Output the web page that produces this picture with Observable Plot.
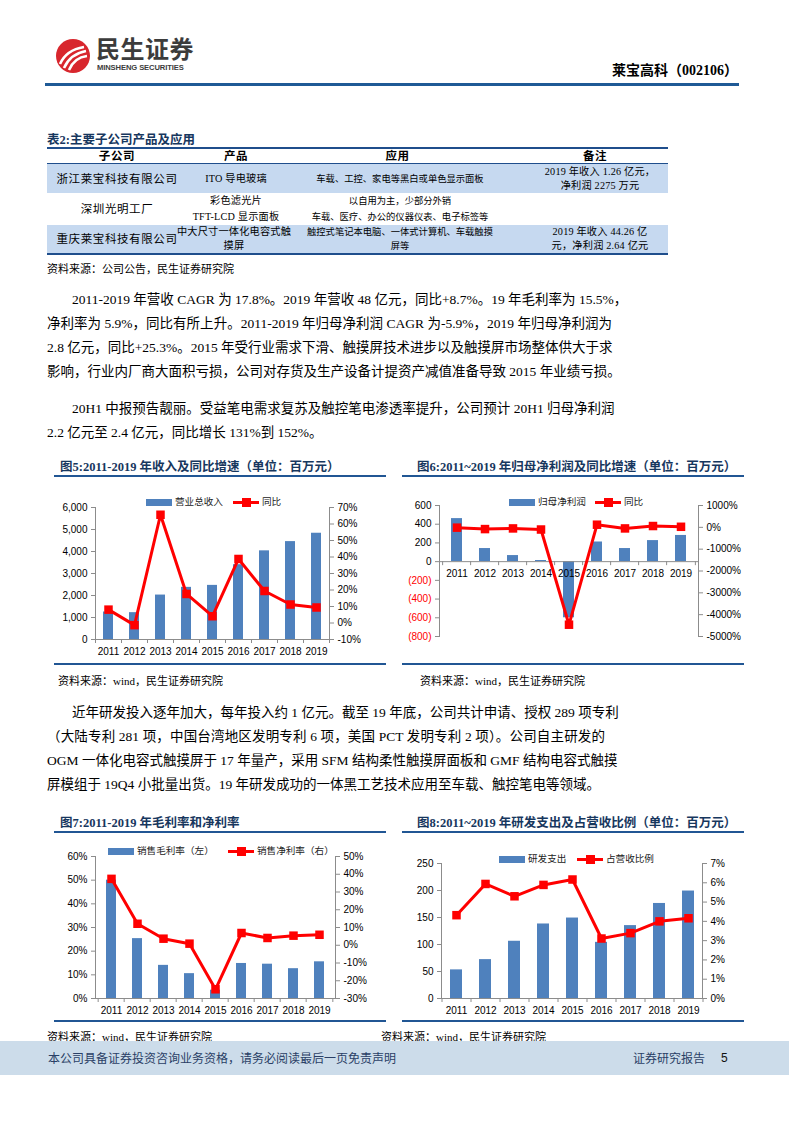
<!DOCTYPE html>
<html><head><meta charset="utf-8">
<script src="https://cdn.jsdelivr.net/npm/d3@7"></script>
<script src="https://cdn.jsdelivr.net/npm/@observablehq/plot@0.6"></script>
<style>
body{margin:0;width:793px;height:1122px;position:relative;background:#fff;overflow:hidden;font-family:"Liberation Serif","Noto Sans CJK SC",serif;color:#000}
.a{position:absolute;white-space:nowrap}
.ln{position:absolute;font-size:13.5px;white-space:nowrap;line-height:18px;text-align:justify;text-align-last:justify}
.ttl{position:absolute;font-weight:bold;font-size:12.5px;color:#17375e;white-space:nowrap;font-family:"Liberation Serif","Noto Sans CJK SC",serif;line-height:16px}
.bl{position:absolute;height:2px;background:#215694}
.src{position:absolute;font-size:11px;white-space:nowrap;line-height:14px}
.cell{position:absolute;display:flex;align-items:center;justify-content:center;text-align:center;font-size:10.2px;line-height:14px;letter-spacing:0.2px;white-space:nowrap}
.c1{font-size:11.5px;letter-spacing:0.6px}
.c3{font-size:9.3px;letter-spacing:0px}
.leg{position:absolute;font-size:9.6px;line-height:14px;white-space:nowrap;font-family:"Noto Sans CJK SC",sans-serif;color:#222}
.sw{position:absolute}
.chart{position:absolute}
.chart svg{position:absolute;left:0;top:0}
</style></head>
<body>
<script>
// ---------- data ----------
const years = ["2011","2012","2013","2014","2015","2016","2017","2018","2019"];
// 图5
const revenue = [1250,1220,2020,2370,2460,3400,4030,4450,4830];
const revenueYoY = [8.1,-1.3,65.6,17.6,4.1,38.8,19.4,11.2,9.4];
const revTicks = [0,1000,2000,3000,4000,5000,6000];
const revYoYTicks = [-10,0,10,20,30,40,50,60,70];
// 图6
const netProfit = [460,140,65,12,-600,210,140,225,280];
const netProfitYoY = [-15,-80,-50,-100,-4460,120,-50,60,25];
const npTicks = [-800,-600,-400,-200,0,200,400,600];
const npYoYTicks = [-5000,-4000,-3000,-2000,-1000,0,1000];
// 图7
const grossMargin = [50,25.3,14,10.5,3.5,14.8,14.5,12.6,15.5];
const netMargin = [37.4,12.1,3.7,0.9,-24.8,6.9,4.1,5.4,5.9];
const gmTicks = [0,10,20,30,40,50,60];
const nmTicks = [-30,-20,-10,0,10,20,30,40,50];
// 图8
const rdExpense = [53,72,106,138,149,104,135,176,199];
const rdRatio = [4.32,5.94,5.30,5.89,6.17,3.11,3.39,4.0,4.16];
const rdTicks = [0,50,100,150,200,250];
const rdRatioTicks = [0,1,2,3,4,5,6,7];

const BLUE = "#4F81BD", RED = "#FF0000", AX = "#8c8c8c";

function makeChart(o){
  const div = document.createElement("div");
  div.className = "chart";
  Object.assign(div.style,{left:o.left+"px",top:o.top+"px",width:o.width+"px",height:o.height+"px"});
  const xs = {type:"band",domain:years,paddingInner:0.6,paddingOuter:0.3,axis:null};
  const common = {width:o.width,height:o.height,marginLeft:o.ml,marginRight:o.mr,marginTop:o.mt,marginBottom:o.mb,
    style:{fontFamily:"'Liberation Sans',Arial,sans-serif",fontSize:"10px",color:"#000",background:"transparent",overflow:"visible"}};
  const bd = years.map((y,i)=>({year:y,v:o.bars[i]}));
  const ld = years.map((y,i)=>({year:y,v:o.line[i]}));
  const ax = {tickFormat:o.barFmt,tickSize:4,tickPadding:4,stroke:AX,label:null};
  const step = (o.width-o.ml-o.mr)/years.length;
  const leftMarks = [
    Plot.barY(bd,{x:"year",y:"v",fill:BLUE}),
    Plot.ruleY([o.base],{stroke:AX,strokeWidth:1}),
    // category boundary ticks on the x axis
    Plot.ruleX(years,{x:d=>d,y1:()=>o.base,y2:()=>o.base,insetBottom:-4,dx:-step/2,stroke:AX}),
    Plot.ruleX(years.slice(-1),{x:d=>d,y1:()=>o.base,y2:()=>o.base,insetBottom:-4,dx:step/2,stroke:AX}),
    Plot.frame({anchor:"left",stroke:AX}),
  ];
  if(o.negRed){
    leftMarks.push(Plot.axisY(o.barTicks.filter(d=>d>=0),{...ax,fill:"#000"}));
    leftMarks.push(Plot.axisY(o.barTicks.filter(d=>d<0),{...ax,fill:"#FF0000"}));
  } else {
    leftMarks.push(Plot.axisY(o.barTicks,{...ax,fill:"#000"}));
  }
  leftMarks.push(Plot.text(years,{x:d=>d,y:()=>o.base,dy:12,text:d=>d,fill:"#000",fontSize:10}));
  const A = Plot.plot({...common,x:xs,y:{domain:o.barDomain,axis:null},marks:leftMarks});
  const B = Plot.plot({...common,x:xs,y:{domain:o.lineDomain,axis:null},marks:[
    Plot.frame({anchor:"right",stroke:AX}),
    Plot.axisY(o.lineTicks,{anchor:"right",tickFormat:o.lineFmt,tickSize:4,tickPadding:4,stroke:AX,fill:"#000",label:null}),
    Plot.line(ld,{x:"year",y:"v",stroke:RED,strokeWidth:3}),
    Plot.dot(ld,{x:"year",y:"v",symbol:"square",fill:RED,r:4.8})
  ]});
  div.appendChild(A); div.appendChild(B);
  document.body.appendChild(div);
}
function legend(y, barX, barText, lineX, lineText){
  const h = `
  <div class="sw" style="left:${barX}px;top:${y-3}px;width:26px;height:7px;background:${BLUE}"></div>
  <div class="leg" style="left:${barX+29}px;top:${y-8}px">${barText}</div>
  <div class="sw" style="left:${lineX}px;top:${y-1.5}px;width:26px;height:3px;background:${RED}"></div>
  <div class="sw" style="left:${lineX+8.5}px;top:${y-4.5}px;width:9px;height:9px;background:${RED}"></div>
  <div class="leg" style="left:${lineX+29}px;top:${y-8}px">${lineText}</div>`;
  document.body.insertAdjacentHTML("beforeend",h);
}
const pct = d=>d+"%";
const comma = d3.format(",");
</script>

<!-- header -->
<svg class="a" style="left:54px;top:37px" width="38" height="38" viewBox="0 0 38 38">
  <circle cx="19" cy="19" r="17" fill="#d8262d"/>
  <path d="M6,27 C10,18 18,12 30,10" stroke="#fff" stroke-width="2.6" fill="none"/>
  <path d="M10,31 C14,22 21,16 32,14" stroke="#fff" stroke-width="2.6" fill="none"/>
  <path d="M15,33 C18,26 24,20 33,19" stroke="#fff" stroke-width="2.6" fill="none"/>
</svg>
<div class="a" style="left:96px;top:34px;font-family:'Noto Sans CJK SC',sans-serif;font-weight:bold;font-size:24px;letter-spacing:0.5px;color:#3c3c3c;line-height:28px">民生证券</div>
<div class="a" style="left:97px;top:63px;font-family:'Liberation Sans',Arial,sans-serif;font-weight:bold;font-size:7.6px;color:#3c3c3c;line-height:9px;letter-spacing:-0.1px">MINSHENG SECURITIES</div>
<div class="a" style="right:55px;top:62px;font-weight:bold;font-size:14px;line-height:18px;font-family:'Liberation Serif','Noto Sans CJK SC',serif">莱宝高科（002106）</div>
<div class="bl" style="left:45px;top:83px;width:694px;height:3px;background:#1f5a96"></div>

<!-- table -->
<div class="ttl" style="left:47px;top:132px">表2:主要子公司产品及应用</div>
<div class="a" style="left:47px;top:147px;width:621px;height:2px;background:#1f4e8c"></div>
<div class="a" style="left:47px;top:164px;width:621px;height:29px;background:#c6d9f0"></div>
<div class="a" style="left:47px;top:225px;width:621px;height:28px;background:#c6d9f0"></div>
<div class="a" style="left:47px;top:163px;width:621px;height:1px;background:#1f4e8c"></div>
<div class="a" style="left:47px;top:253px;width:621px;height:1.5px;background:#1f4e8c"></div>

<div class="cell c1" style="left:47px;top:149px;width:140px;height:14px;font-weight:bold">子公司</div>
<div class="cell c1" style="left:187px;top:149px;width:98px;height:14px;font-weight:bold">产品</div>
<div class="cell c1" style="left:285px;top:149px;width:225px;height:14px;font-weight:bold">应用</div>
<div class="cell c1" style="left:520px;top:149px;width:150px;height:14px;font-weight:bold">备注</div>

<div class="cell c1" style="left:47px;top:164px;width:140px;height:29px">浙江莱宝科技有限公司</div>
<div class="cell" style="left:187px;top:164px;width:98px;height:29px">ITO 导电玻璃</div>
<div class="cell c3" style="left:300px;top:164px;width:200px;height:29px">车载、工控、家电等黑白或单色显示面板</div>
<div class="cell" style="left:525px;top:164px;width:150px;height:29px">2019 年收入 1.26 亿元，<br>净利润 2275 万元</div>

<div class="cell c1" style="left:47px;top:193px;width:140px;height:32px">深圳光明工厂</div>
<div class="cell" style="left:187px;top:193px;width:98px;height:32px;line-height:16px">彩色滤光片<br>TFT-LCD 显示面板</div>
<div class="cell c3" style="left:300px;top:193px;width:200px;height:32px;line-height:16px">以自用为主，少部分外销<br>车载、医疗、办公的仪器仪表、电子标签等</div>

<div class="cell c1" style="left:47px;top:225px;width:140px;height:28px">重庆莱宝科技有限公司</div>
<div class="cell" style="left:185px;top:225px;width:98px;height:28px">中大尺寸一体化电容式触<br>摸屏</div>
<div class="cell c3" style="left:300px;top:225px;width:200px;height:28px">触控式笔记本电脑、一体式计算机、车载触摸<br>屏等</div>
<div class="cell" style="left:525px;top:225px;width:150px;height:28px">2019 年收入 44.26 亿<br>元，净利润 2.64 亿元</div>

<div class="src" style="left:47px;top:262px">资料来源：公司公告，民生证券研究院</div>

<!-- paragraphs -->
<div class="ln" style="left:72px;top:291px;width:540px">2011-2019 年营收 CAGR 为 17.8%。2019 年营收 48 亿元，同比+8.7%。19 年毛利率为 15.5%，</div>
<div class="ln" style="left:47px;top:315px;width:565px">净利率为 5.9%，同比有所上升。2011-2019 年归母净利润 CAGR 为-5.9%，2019 年归母净利润为</div>
<div class="ln" style="left:47px;top:339px;width:565px">2.8 亿元，同比+25.3%。2015 年受行业需求下滑、触摸屏技术进步以及触摸屏市场整体供大于求</div>
<div class="ln" style="left:47px;top:363px;width:565px">影响，行业内厂商大面积亏损，公司对存货及生产设备计提资产减值准备导致 2015 年业绩亏损。</div>
<div class="ln" style="left:72px;top:400px;width:540px">20H1 中报预告靓丽。受益笔电需求复苏及触控笔电渗透率提升，公司预计 20H1 归母净利润</div>
<div class="ln" style="left:47px;top:424px;text-align:left;text-align-last:left">2.2 亿元至 2.4 亿元，同比增长 131%到 152%。</div>

<!-- chart titles -->
<div class="ttl" style="left:60px;top:459px">图5:2011-2019 年收入及同比增速（单位：百万元）</div>
<div class="bl" style="left:54px;top:475px;width:332px"></div>
<div class="ttl" style="left:417px;top:459px">图6:2011~2019 年归母净利润及同比增速（单位：百万元）</div>
<div class="bl" style="left:402px;top:475px;width:342px"></div>
<div class="bl" style="left:54px;top:663px;width:332px"></div>
<div class="bl" style="left:402px;top:663px;width:342px"></div>
<div class="src" style="left:58px;top:674px">资料来源：wind，民生证券研究院</div>
<div class="src" style="left:420px;top:674px">资料来源：wind，民生证券研究院</div>

<div class="ln" style="left:72px;top:704px;width:533px">近年研发投入逐年加大，每年投入约 1 亿元。截至 19 年底，公司共计申请、授权 289 项专利</div>
<div class="ln" style="left:47px;top:728px;width:558px">（大陆专利 281 项，中国台湾地区发明专利 6 项，美国 PCT 发明专利 2 项）。公司自主研发的</div>
<div class="ln" style="left:47px;top:752px;width:558px">OGM 一体化电容式触摸屏于 17 年量产，采用 SFM 结构柔性触摸屏面板和 GMF 结构电容式触摸</div>
<div class="ln" style="left:47px;top:776px;text-align:left;text-align-last:left">屏模组于 19Q4 小批量出货。19 年研发成功的一体黑工艺技术应用至车载、触控笔电等领域。</div>

<div class="ttl" style="left:60px;top:815px">图7:2011-2019 年毛利率和净利率</div>
<div class="bl" style="left:54px;top:831px;width:332px"></div>
<div class="ttl" style="left:417px;top:815px">图8:2011~2019 年研发支出及占营收比例（单位：百万元）</div>
<div class="bl" style="left:402px;top:831px;width:342px"></div>
<div class="bl" style="left:54px;top:1020px;width:332px"></div>
<div class="bl" style="left:402px;top:1020px;width:342px"></div>
<div class="src" style="left:47px;top:1030px">资料来源：wind，民生证券研究院</div>
<div class="src" style="left:381px;top:1030px">资料来源：wind，民生证券研究院</div>

<!-- footer -->
<div class="a" style="left:0;top:1041px;width:789px;height:34px;background:#ccdcea"></div>
<div class="a" style="left:48px;top:1050px;font-family:'Noto Sans CJK SC',sans-serif;font-size:12px;line-height:16px;color:#2a3f66">本公司具备证券投资咨询业务资格，请务必阅读最后一页免责声明</div>
<div class="a" style="left:633px;top:1050px;font-family:'Noto Sans CJK SC',sans-serif;font-size:12px;line-height:16px;color:#2a3f66">证券研究报告</div>
<div class="a" style="left:721px;top:1050px;font-family:'Liberation Sans',Arial,sans-serif;font-size:12px;line-height:16px;color:#111">5</div>

<script>
makeChart({left:40,top:490,width:340,height:175,ml:55,mr:51,mt:17,mb:26,
  bars:revenue,barDomain:[0,6000],barTicks:revTicks,barFmt:comma,base:0,
  line:revenueYoY,lineDomain:[-10,70],lineTicks:revYoYTicks,lineFmt:pct});
legend(502,146,"营业总收入",233,"同比");

makeChart({left:400,top:490,width:350,height:160,ml:39,mr:52,mt:15,mb:14,
  bars:netProfit,barDomain:[-800,600],barTicks:npTicks,barFmt:d=>d<0?"("+(-d)+")":String(d),base:0,negRed:true,
  line:netProfitYoY,lineDomain:[-5000,1000],lineTicks:npYoYTicks,lineFmt:pct});
legend(502,509,"归母净利润",595,"同比");

makeChart({left:40,top:840,width:345,height:180,ml:55,mr:50,mt:16,mb:22,
  bars:grossMargin,barDomain:[0,60],barTicks:gmTicks,barFmt:pct,base:0,
  line:netMargin,lineDomain:[-30,50],lineTicks:nmTicks,lineFmt:pct});
legend(851,108,"销售毛利率（左）",228,"销售净利率（右）");

makeChart({left:400,top:845,width:350,height:175,ml:41,mr:48,mt:18,mb:22,
  bars:rdExpense,barDomain:[0,250],barTicks:rdTicks,barFmt:String,base:0,
  line:rdRatio,lineDomain:[0,7],lineTicks:rdRatioTicks,lineFmt:pct});
legend(859,499,"研发支出",577,"占营收比例");
</script>
</body></html>
